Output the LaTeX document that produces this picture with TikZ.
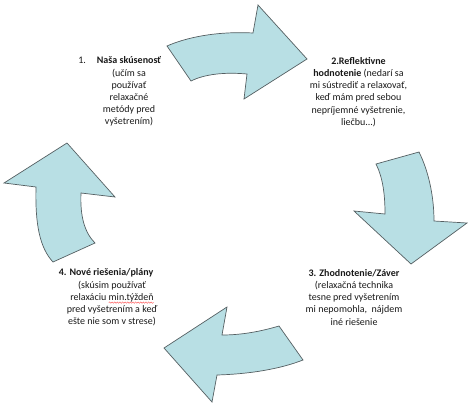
\documentclass[tikz,border=0pt]{standalone}
\usepackage{fontspec}
\setmainfont{Carlito}
\usetikzlibrary{decorations.pathmorphing}
\newcommand\redsquiggle[1]{\tikz[baseline=0pt,x=1pt,y=1pt]{\node[inner sep=0pt,outer sep=0pt,anchor=base] (sqword) {#1}; \draw[red!75, line width=0.35pt, decorate, decoration={snake, amplitude=0.7pt, segment length=2.6pt}] ([yshift=-2.4pt]sqword.base west) -- ([yshift=-2.4pt]sqword.base east);}}
\definecolor{arrowfill}{RGB}{184,223,228}
\definecolor{arrowline}{RGB}{85,95,98}
\tikzset{
  cyclearrow/.style={fill=arrowfill, draw=arrowline, line width=0.7pt, line join=miter},
  stagetext/.style={align=center, anchor=base, inner sep=0pt, font=\fontsize{10}{12.2}\selectfont, text=black!90}
}
\begin{document}
\begin{tikzpicture}[x=1pt,y=-1pt]
\useasboundingbox (0,0) rectangle (470,407);
% top arrow
\path[cyclearrow] (167,46) .. controls (185,38) and (215,31) .. (253,33) -- (258,5) -- (307,59) -- (244,99) -- (247,74) .. controls (225,72) and (205,74) .. (191,81) -- cycle;
% right arrow
\path[cyclearrow] (419,152) .. controls (428,170) and (434,195) .. (434,221) -- (467,223) -- (411,264) -- (354,211) -- (385,214) .. controls (385,195) and (383,178) .. (376,164) -- cycle;
% bottom arrow
\path[cyclearrow] (279,326) .. controls (262,331) and (243,335) .. (222,335) -- (227,307) -- (164,348) -- (212,402) -- (217,375) .. controls (250,374) and (280,369) .. (303,360) -- cycle;
% left arrow
\path[cyclearrow] (53,262) .. controls (40,248) and (35,225) .. (36,187) -- (4,183) -- (67,143) -- (115,197) -- (81,193) .. controls (80,215) and (84,232) .. (95,243) -- cycle;

% anchor=base of a multi-line node sits on its last line
\node[stagetext] (s1) at (129,124.8) {\llap{1.\hspace{11pt}}\textbf{Naša skúsenosť}\\(učím sa\\používať\\relaxačné\\metódy pred\\vyšetrením)};
\node[stagetext] (s2) at (358.5,125.2) {\textbf{2.Reflektivne}\\\textbf{hodnotenie} (nedarí sa\\mi sústrediť a relaxovať,\\keď mám pred sebou\\nepríjemné vyšetrenie,\\liečbu...)};
\node[stagetext] (s3) at (354,325) {\textbf{3. Zhodnotenie/Záver}\\(relaxačná technika\\tesne pred vyšetrením\\mi nepomohla,\ \ nájdem\\iné riešenie};
\node[stagetext] (s4) at (112,324.6) {\textbf{4. Nové riešenia/plány}\hspace*{12pt}\\(skúsim používať\\relaxáciu \redsquiggle{min.týždeň}\\pred vyšetrením a keď\\ešte nie som v strese)};
\end{tikzpicture}
\end{document}
